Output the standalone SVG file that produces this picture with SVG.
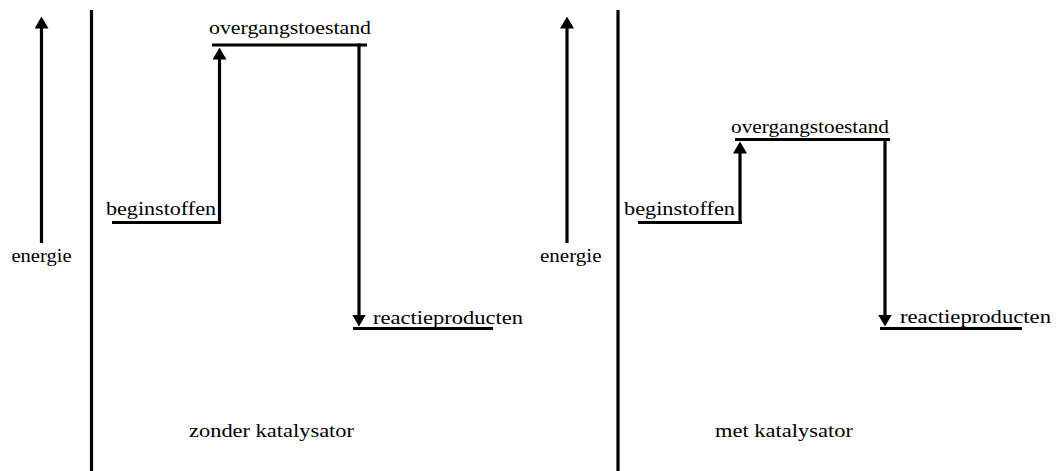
<svg xmlns="http://www.w3.org/2000/svg" width="1058" height="471" viewBox="0 0 1058 471">
  <style>
    .ln { stroke: #000; stroke-width: 3.2; fill: none; stroke-linecap: butt; }
  </style>
  <defs>
    <marker id="ah" viewBox="0 0 12 14" markerWidth="12" markerHeight="14" refX="0.5" refY="7" orient="auto" markerUnits="userSpaceOnUse">
      <path d="M0,0 L12,7 L0,14 z" fill="#000"/>
    </marker>
  </defs>
  <rect width="1058" height="471" fill="#fff"/>

  <g font-family="'Liberation Serif', 'Times New Roman', Times, serif" font-size="19" fill="#000">
  <!-- Left panel: zonder katalysator -->
  <g id="axis-left">
    <line class="ln" x1="41.5" y1="243" x2="41.5" y2="28" marker-end="url(#ah)"/>
    <text x="11.5" y="262" textLength="60" lengthAdjust="spacingAndGlyphs">energie</text>
  </g>
  <g id="divider-left">
    <line class="ln" x1="91.5" y1="10" x2="91.5" y2="471"/>
  </g>
  <g id="beginstoffen-left">
    <line class="ln" x1="112" y1="222.5" x2="221" y2="222.5"/>
    <text x="106" y="215" textLength="110" lengthAdjust="spacingAndGlyphs">beginstoffen</text>
  </g>
  <g id="overgang-left">
    <line class="ln" x1="212" y1="45" x2="367" y2="45"/>
    <text x="209" y="34" textLength="162" lengthAdjust="spacingAndGlyphs">overgangstoestand</text>
  </g>
  <g id="producten-left">
    <line class="ln" x1="353" y1="328.5" x2="493" y2="328.5"/>
    <text x="373" y="324" textLength="150" lengthAdjust="spacingAndGlyphs">reactieproducten</text>
  </g>
  <g id="label-left">
    <text x="189" y="437" textLength="165" lengthAdjust="spacingAndGlyphs">zonder katalysator</text>
  </g>

  <!-- Right panel: met katalysator -->
  <g id="axis-right">
    <line class="ln" x1="567" y1="243" x2="567" y2="28" marker-end="url(#ah)"/>
    <text x="540" y="262" textLength="61.5" lengthAdjust="spacingAndGlyphs">energie</text>
  </g>
  <g id="divider-right">
    <line class="ln" x1="618" y1="10" x2="618" y2="471"/>
  </g>
  <g id="beginstoffen-right">
    <line class="ln" x1="638" y1="222.5" x2="742" y2="222.5"/>
    <text x="624" y="215" textLength="111" lengthAdjust="spacingAndGlyphs">beginstoffen</text>
  </g>
  <g id="overgang-right">
    <line class="ln" x1="735" y1="139.5" x2="890" y2="139.5"/>
    <text x="731" y="133" textLength="158" lengthAdjust="spacingAndGlyphs">overgangstoestand</text>
  </g>
  <g id="producten-right">
    <line class="ln" x1="880" y1="328.5" x2="1022" y2="328.5"/>
    <text x="900" y="323" textLength="151" lengthAdjust="spacingAndGlyphs">reactieproducten</text>
  </g>
  <g id="label-right">
    <text x="715" y="437" textLength="138" lengthAdjust="spacingAndGlyphs">met katalysator</text>
  </g>

  <!-- Connectors -->
  <g id="connectors">
    <line class="ln" x1="219.5" y1="224" x2="219.5" y2="59" marker-end="url(#ah)"/>
    <line class="ln" x1="359" y1="43.5" x2="359" y2="315" marker-end="url(#ah)"/>
    <line class="ln" x1="740" y1="224" x2="740" y2="153" marker-end="url(#ah)"/>
    <line class="ln" x1="885" y1="138" x2="885" y2="315" marker-end="url(#ah)"/>
  </g>
  </g>
</svg>
